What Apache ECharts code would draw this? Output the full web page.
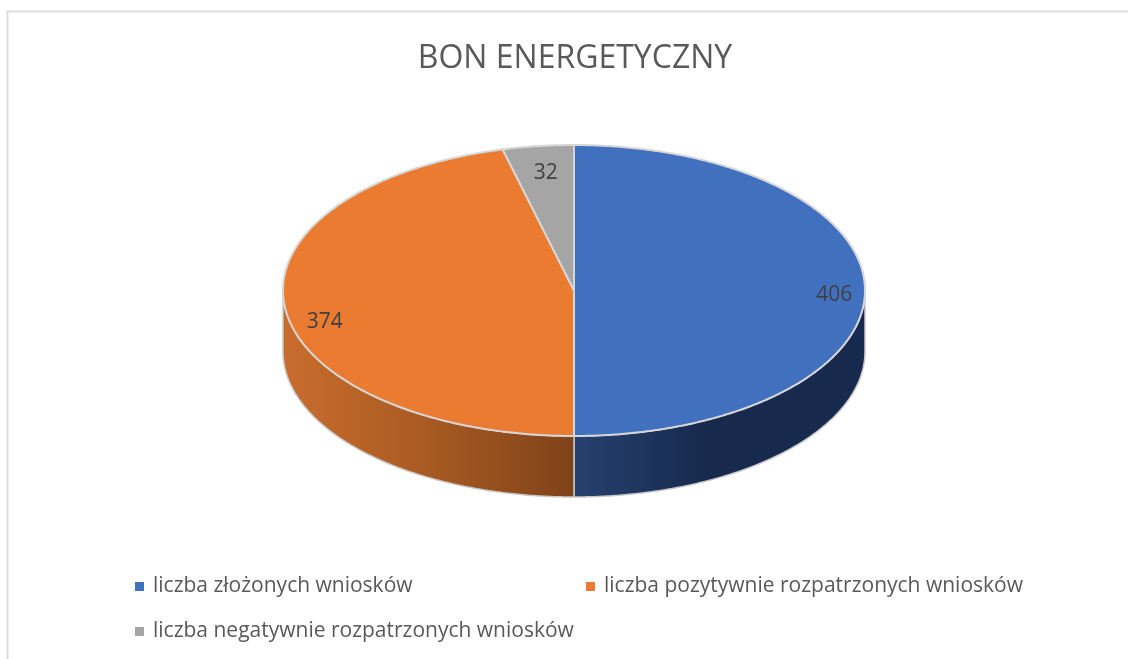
<!DOCTYPE html>
<html>
<head>
<meta charset="utf-8">
<style>
  html, body { margin: 0; padding: 0; background: #fff; }
  #chart { width: 1128px; height: 659px; }
</style>
<script src="https://cdn.jsdelivr.net/npm/echarts@6/dist/echarts.min.js"></script>
</head>
<body>
<div id="chart"></div>
<script>
const categories = ['liczba złożonych wniosków', 'liczba pozytywnie rozpatrzonych wniosków', 'liczba negatywnie rozpatrzonych wniosków'];
const values = [406, 374, 32];

const topColors = ['#4170bf', '#ea7b30', '#a5a5a5'];
const wallStops = [
  [[0, '#26416f'], [0.45, '#172a4e'], [1, '#172a4e']],
  [[0, '#c96d2e'], [0.5, '#a85a22'], [1, '#7f4219']],
  [[0, '#636363'], [1, '#636363']]
];
const FONT = '"Open Sans", sans-serif';

// ellipse of the tilted pie
const cx = 574, cy = 290.5, rx = 291, ry = 145.5, depth = 61;
const labelK = 0.87;
const labelShift = [[7, 5], [2, 16], [3, 8]];

const total = values.reduce((a, b) => a + b, 0);
const starts = [];
values.reduce((acc, v, i) => { starts[i] = acc; return acc + v / total * 360; }, 0);

function pt(deg, dy) {
  const t = deg * Math.PI / 180;
  return [cx + rx * Math.sin(t), cy - ry * Math.cos(t) + (dy || 0)];
}

function arc(from, to, dy) {
  const pts = [];
  const n = Math.max(2, Math.ceil((to - from) * 2));
  for (let i = 0; i <= n; i++) pts.push(pt(from + (to - from) * i / n, dy));
  return pts;
}

function renderSlice(i) {
  return function (params, api) {
    const from = starts[i];
    const sweep = api.value(0) / total * 360;
    const to = from + sweep;
    const children = [];

    // only the front half of the rim shows
    const a = Math.max(from, 90), b = Math.min(to, 270);
    if (b > a) {
      children.push({
        type: 'polygon',
        shape: { points: arc(a, b, 0).concat(arc(a, b, depth).reverse()) },
        style: {
          fill: { type: 'linear', x: 0, y: 0, x2: 1, y2: 0, colorStops: wallStops[i].map(s => ({ offset: s[0], color: s[1] })) },
          stroke: '#c8c8c8',
          lineWidth: 1.5
        }
      });
    }

    children.push({
      type: 'polygon',
      shape: { points: [[cx, cy]].concat(arc(from, to, 0)) },
      style: { fill: topColors[i], stroke: '#d6d6d6', lineWidth: 2 }
    });

    const mid = pt(from + sweep / 2, 0);
    children.push({
      type: 'text',
      z2: 10,
      style: {
        text: String(api.value(0)),
        x: cx + (mid[0] - cx) * labelK + labelShift[i][0],
        y: cy + (mid[1] - cy) * labelK + labelShift[i][1],
        align: 'center',
        verticalAlign: 'middle',
        fill: '#404040',
        font: '21px ' + FONT
      }
    });
    return { type: 'group', children: children };
  };
}

const chart = echarts.init(document.getElementById('chart'), null, { renderer: 'canvas' });

const legendSpots = [[130, 571], [581, 571], [130, 616]];

chart.setOption({
  backgroundColor: '#ffffff',
  animation: false,
  title: {
    text: 'BON ENERGETYCZNY',
    left: 570,
    top: 38,
    textAlign: 'center',
    textStyle: { color: '#595959', fontSize: 32, fontWeight: 'normal', fontFamily: FONT }
  },
  legend: categories.map((name, i) => ({
    data: [name],
    left: legendSpots[i][0],
    top: legendSpots[i][1],
    icon: 'rect',
    itemWidth: 9,
    itemHeight: 9,
    selectedMode: false,
    textStyle: { color: '#595959', fontSize: 21, fontFamily: FONT, padding: [0, 0, 0, 4] }
  })),
  graphic: [{
    type: 'polyline',
    silent: true,
    shape: { points: [[7.5, 660], [7.5, 11.5], [1128, 11.5]] },
    style: { stroke: '#dfdfdf', lineWidth: 2, fill: null }
  }],
  series: categories.map((name, i) => ({
    type: 'custom',
    name: name,
    coordinateSystem: 'none',
    itemStyle: { color: topColors[i] },
    data: [[values[i]]],
    renderItem: renderSlice(i)
  }))
});
</script>
</body>
</html>
